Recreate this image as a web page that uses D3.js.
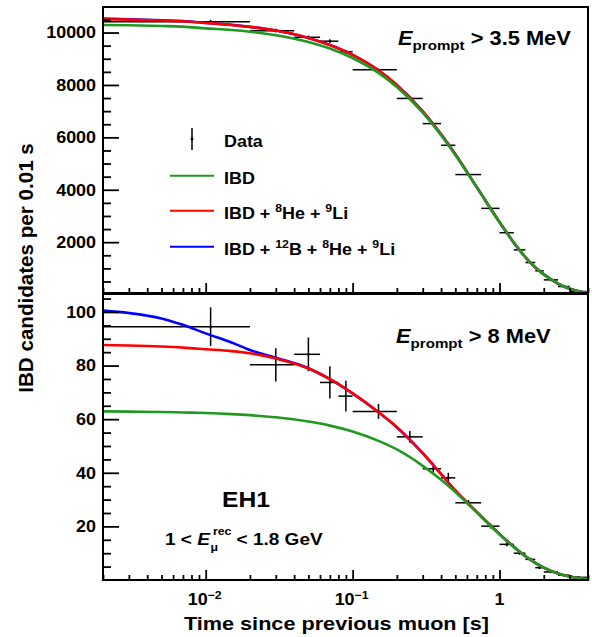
<!DOCTYPE html>
<html><head><meta charset="utf-8">
<script src="https://cdn.jsdelivr.net/npm/d3@7/dist/d3.min.js"></script>
<style>
body{margin:0;background:#fff}
text{font-family:"Liberation Sans",Arial,Helvetica,sans-serif;font-weight:bold;fill:#000}
</style>
</head><body>
<svg id="c" width="592" height="637"></svg>
<script>
// ---------------- data ----------------
const binLow    = [0.001,0.02,0.04,0.06,0.08,0.1,0.2,0.3,0.4,0.5,0.75,1.0,1.25,1.5,1.75,2.0,2.5,3.0];
const binHigh   = [0.02,0.04,0.06,0.08,0.1,0.2,0.3,0.4,0.5,0.75,1.0,1.25,1.5,1.75,2.0,2.5,3.0,4.0];
const binCenter = [0.0108,0.03,0.05,0.07,0.09,0.15,0.245,0.354,0.448,0.614,0.87,1.12,1.37,1.62,1.87,2.24,2.74,3.45];

const topVals = [10414,10070,9819,9670,9270,8580,7485,6524,5698,4580,3290,2360,1707,1223,906,562,307,117];
const topErr  = [72,71,70,70,68,29,27,25,24,14,11,10,8,7,6,3.5,2.5,1.1];
const botVals = [94.5,80.3,84.2,73.7,68.6,62.9,53.4,41.5,38.1,28.8,20.1,13.3,10.0,7.7,4.6,3.0,1.8,1.0];
const botErr  = [7.2,6.2,6.3,6.0,5.7,2.8,2.2,2.0,1.9,1.1,0.9,0.7,0.6,0.55,0.45,0.25,0.2,0.1];

const curveT    = [0.002,0.003,0.005,0.007,0.01,0.015,0.02,0.03,0.05,0.07,0.1,0.15,0.2,0.3,0.4,0.5,0.7,1.0,1.3,1.6,2.0,2.5,3.0,3.5,4.0];
const topGreen  = [10290,10278,10250,10225,10160,10095,10030,9900,9640,9390,9030,8460,7920,6940,6080,5330,4090,2760,1860,1250,770,420,220,120,65];
const topRed    = [10505,10492,10462,10433,10365,10290,10215,10075,9795,9525,9150,8560,8000,6990,6115,5355,4100,2763,1860,1250,770,420,220,120,65];
const topBlue   = [10535,10510,10470,10438,10368,10292,10216,10076,9795,9525,9150,8560,8000,6990,6115,5355,4100,2763,1860,1250,770,420,220,120,65];
const botGreen  = [62.9,62.8,62.7,62.5,62.3,61.9,61.5,60.7,59.1,57.6,55.4,51.9,48.7,42.6,37.4,32.8,25.2,17.0,11.6,7.8,4.6,2.4,1.3,0.65,0.35];
const botRed    = [87.7,87.5,87.1,86.7,86.1,85.4,84.6,82.6,78.9,74.9,69.6,62.6,57.0,47.3,39.5,33.4,25.4,17.1,11.6,7.8,4.6,2.4,1.3,0.65,0.35];
const botBlue   = [100.5,99.6,97.6,95.2,92.0,88.6,85.8,82.9,79.0,74.95,69.65,62.6,57.0,47.3,39.5,33.4,25.4,17.1,11.6,7.8,4.6,2.4,1.3,0.65,0.35];

const xMajor = [0.01,0.1,1];
const xMinor = [0.002,0.003,0.004,0.005,0.006,0.007,0.008,0.009,0.02,0.03,0.04,0.05,0.06,0.07,0.08,0.09,0.2,0.3,0.4,0.5,0.6,0.7,0.8,0.9,2,3,4];
const xLabels = [["10","\u22122"],["10","\u22121"],["1",""]];
const topYMajor = [2000,4000,6000,8000,10000];
const botYMajor = [20,40,60,80,100];

const colGreen = "#1f9a1f", colRed = "#ff0000", colBlue = "#0000ff";

// ---------------- layout ----------------
const svg = d3.select("#c");
const L = 103, R = 588;
const topP = {t:7, b:293}, botP = {t:294, b:580};
const SX = 1.12;

const x = d3.scaleLog().domain([0.002,4]).range([L,R]);
const yTop = d3.scaleLinear().domain([60,10975]).range([topP.b, topP.t]);
const yBot = d3.scaleLinear().domain([0,106.7]).range([botP.b, botP.t]);

const defs = svg.append("defs");
[["clipTop",topP],["clipBot",botP]].forEach(([id,p])=>{
  defs.append("clipPath").attr("id",id).append("rect")
    .attr("x",L).attr("y",p.t).attr("width",R-L).attr("height",p.b-p.t);
});

function rich(x0,y0,segs,anchor,rot,sx){
  const t = svg.append("text")
    .attr("transform",`translate(${x0},${y0})${rot?` rotate(${rot})`:""} scale(${sx||SX},1)`)
    .attr("text-anchor",anchor||"start");
  let cur = 0;
  segs.forEach(s=>{
    const ts = t.append("tspan").text(s.t).attr("font-size",s.fs);
    const off = s.off||0;
    if (off!==cur){ ts.attr("dy", off-cur); cur = off; }
    if (s.it) ts.attr("font-style","italic");
  });
  return t;
}

function panel(p, y, yMajor, yMinorStep, vals, errs, curves, clipId){
  const g = svg.append("g");
  // data (drawn first, curves over)
  const dg = g.append("g").attr("clip-path",`url(#${clipId})`)
    .attr("stroke","#000").attr("stroke-width",1.5).attr("fill","none");
  vals.forEach((v,i)=>{
    const cx = x(binCenter[i]), cy = y(v);
    dg.append("line").attr("x1",Math.max(L,x(binLow[i]))).attr("x2",x(binHigh[i])).attr("y1",cy).attr("y2",cy);
    dg.append("line").attr("x1",cx).attr("x2",cx).attr("y1",y(v+errs[i])).attr("y2",y(v-errs[i]));
    dg.append("circle").attr("cx",cx).attr("cy",cy).attr("r",1.2).attr("fill","#000").attr("stroke","none");
  });
  // curves
  const cg = g.append("g").attr("clip-path",`url(#${clipId})`);
  curves.forEach(([arr,col])=>{
    const line = d3.line().x((d,i)=>x(curveT[i])).y(d=>y(d)).curve(d3.curveMonotoneX);
    cg.append("path").attr("d",line(arr)).attr("fill","none").attr("stroke",col).attr("stroke-width",2.6);
  });
  // axes ticks
  const yMinor = d3.range(yMinorStep, y.domain()[1], yMinorStep).filter(v=>v>y.domain()[0] && !yMajor.includes(v));
  const axY1 = g.append("g").attr("transform",`translate(${L},0)`).call(d3.axisLeft(y).tickValues(yMajor).tickSize(-16).tickFormat(""));
  const axY2 = g.append("g").attr("transform",`translate(${L},0)`).call(d3.axisLeft(y).tickValues(yMinor).tickSize(-8).tickFormat(""));
  const axX1 = g.append("g").attr("transform",`translate(0,${p.b})`).call(d3.axisBottom(x).tickValues(xMajor).tickSize(-10).tickFormat(""));
  const axX2 = g.append("g").attr("transform",`translate(0,${p.b})`).call(d3.axisBottom(x).tickValues(xMinor).tickSize(-5).tickFormat(""));
  [axY1,axY2,axX1,axX2].forEach(a=>{a.select(".domain").remove(); a.selectAll("line").attr("stroke","#000").attr("stroke-width",1.8);});
  // frame
  g.append("rect").attr("x",L).attr("y",p.t).attr("width",R-L).attr("height",p.b-p.t)
    .attr("fill","none").attr("stroke","#000").attr("stroke-width",2);
  // y labels
  yMajor.forEach(v=>{ rich(96, y(v)+5.8, [{t:String(v),fs:16}], "end"); });
}

panel(topP, yTop, topYMajor, 500, topVals, topErr, [[topBlue,colBlue],[topRed,colRed],[topGreen,colGreen]], "clipTop");
panel(botP, yBot, botYMajor, 5, botVals, botErr, [[botBlue,colBlue],[botRed,colRed],[botGreen,colGreen]], "clipBot");

// x tick labels
xMajor.forEach((v,i)=>{
  const segs = [{t:xLabels[i][0],fs:16}];
  if (xLabels[i][1]) segs.push({t:xLabels[i][1],fs:11,off:-6});
  rich(x(v) + (xLabels[i][1]?-1:0), 605, segs, "middle");
});

// axis titles
rich(336.5, 630, [{t:"Time since previous muon [s]",fs:19}], "middle", 0, 1.14);
rich(33, 268, [{t:"IBD candidates per 0.01 s",fs:20}], "middle", -90, 1.03);

// panel annotations
rich(398, 45, [{t:"E",fs:19.5,it:true},{t:"prompt",fs:13.5,off:5},{t:" > 3.5 MeV",fs:19.5,off:0}], "start");
rich(396, 343, [{t:"E",fs:19.5,it:true},{t:"prompt",fs:13.5,off:5},{t:" > 8 MeV",fs:19.5,off:0}], "start");
rich(246, 507, [{t:"EH1",fs:22}], "middle");
rich(165, 545, [{t:"1 < ",fs:17},{t:"E",fs:17,it:true}], "start");
rich(213, 535, [{t:"rec",fs:11}], "start");
rich(210.5, 551, [{t:"\u03bc",fs:11}], "start");
rich(236.5, 545, [{t:"< 1.8 GeV",fs:17}], "start");

// legend
const lg = svg.append("g");
lg.append("line").attr("x1",192).attr("x2",192).attr("y1",128).attr("y2",150).attr("stroke","#000").attr("stroke-width",1.5);
lg.append("circle").attr("cx",192).attr("cy",139).attr("r",1.5).attr("fill","#000");
rich(224, 147, [{t:"Data",fs:16}]);
const legRows = [
  {y:175.7, col:colGreen, segs:[{t:"IBD",fs:16}]},
  {y:210.7, col:colRed, segs:[{t:"IBD + ",fs:16},{t:"8",fs:11,off:-7},{t:"He + ",fs:16,off:0},{t:"9",fs:11,off:-7},{t:"Li",fs:16,off:0}]},
  {y:246.7, col:colBlue, segs:[{t:"IBD + ",fs:16},{t:"12",fs:11,off:-7},{t:"B + ",fs:16,off:0},{t:"8",fs:11,off:-7},{t:"He + ",fs:16,off:0},{t:"9",fs:11,off:-7},{t:"Li",fs:16,off:0}]}
];
legRows.forEach(r=>{
  lg.append("line").attr("x1",170).attr("x2",214).attr("y1",r.y).attr("y2",r.y).attr("stroke",r.col).attr("stroke-width",2);
  rich(224, r.y+7.8, r.segs);
});
</script>
</body></html>
